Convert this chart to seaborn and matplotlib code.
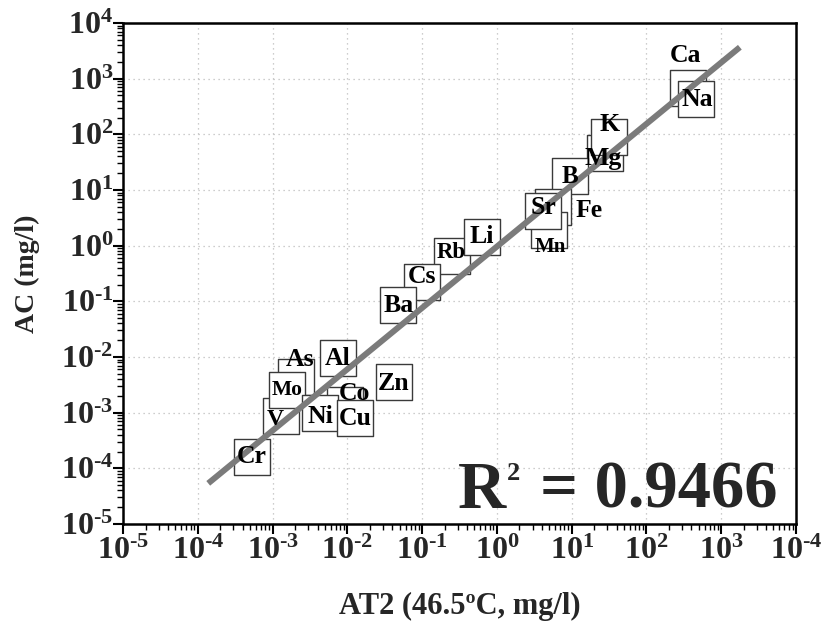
import numpy as np
import pandas as pd
import matplotlib
matplotlib.use("Agg")
import matplotlib.pyplot as plt
import seaborn as sns
from matplotlib.ticker import FixedLocator, LogLocator, NullFormatter, FixedFormatter

# ---------------- data ----------------
elements = ["Ca", "Na", "Mg", "K", "B", "Fe", "Mn", "Sr", "Rb", "Li", "Cs", "Ba",
            "As", "V", "Mo", "Al", "Co", "Ni", "Cu", "Zn", "Cr"]
at2 = [357, 457, 28.2, 31.9, 9.38, 5.69, 4.95, 4.16, 0.248, 0.624, 0.0984, 0.047,
       2.06e-3, 1.28e-3, 1.55e-3, 7.48e-3, 9.29e-3, 4.37e-3, 1.28e-2, 4.20e-2, 5.31e-4]
ac = [671, 437, 46.8, 89.5, 17.9, 4.95, 1.91, 4.2, 0.653, 1.45, 0.223, 0.0859,
      4.43e-3, 8.79e-4, 2.56e-3, 9.59e-3, 1.37e-3, 9.86e-4, 8.04e-4, 3.61e-3, 1.60e-4]

fit_slope = 1.102
fit_intercept = -0.016
fit_x = [1.38e-4, 1775]
r2_value = "0.9466"

decades = [1e-5, 1e-4, 1e-3, 1e-2, 1e-1, 1e0, 1e1, 1e2, 1e3, 1e4]
x_tick_labels = ["-5", "-4", "-3", "-2", "-1", "0", "1", "2", "3", "-4"]
y_tick_labels = ["-5", "-4", "-3", "-2", "-1", "0", "1", "2", "3", "4"]

# label offsets (pixels, dx right, dy down) and sizes
label_off = {"Cr": (0, 0), "V": (-5, 4), "Mo": (0, 0), "As": (4, -17), "Al": (0, 0),
             "Co": (9, -12), "Ni": (0, 3), "Cu": (0, 1), "Zn": (0, 2), "Ba": (1, 0),
             "Cs": (0, -5), "Rb": (0, -3), "Li": (0, 0), "Sr": (0, -3), "Fe": (36, 3),
             "Mn": (1, 17), "B": (0, 1), "Mg": (-2, 6), "K": (0, -13), "Ca": (-2, -33),
             "Na": (2, 1)}
label_size = {"Mn": 15, "Mo": 15.5, "V": 17, "B": 18, "Rb": 16.5}

# ---------------- style ----------------
sns.set_theme(style="white")
plt.rcParams["font.family"] = ["Liberation Serif", "DejaVu Serif"]
plt.rcParams["font.weight"] = "bold"
plt.rcParams["mathtext.fontset"] = "custom"
plt.rcParams["mathtext.rm"] = "Liberation Serif:bold"
plt.rcParams["mathtext.bf"] = "Liberation Serif:bold"
plt.rcParams["mathtext.it"] = "Liberation Serif:bold"
SERIF = ["Liberation Serif", "DejaVu Serif"]

W, H = 826, 625
L, R, T, B = 123, 796, 23, 524
fig = plt.figure(figsize=(W / 100, H / 100), dpi=100)
ax = fig.add_axes([L / W, 1 - B / H, (R - L) / W, (B - T) / H])
ax.set_xscale("log")
ax.set_yscale("log")
ax.set_xlim(1e-5, 1e4)
ax.set_ylim(1e-5, 1e4)

df = pd.DataFrame({"element": elements, "at2": at2, "ac": ac})
sns.scatterplot(data=df, x="at2", y="ac", marker="s", s=700, color="white",
                edgecolor="#3a3a3a", linewidth=1.0, ax=ax, zorder=2, legend=False)

fx = np.array(fit_x)
fy = 10 ** fit_intercept * fx ** fit_slope
sns.lineplot(x=fx, y=fy, color="#7b7b7b", linewidth=4.3, ax=ax, zorder=3,
             solid_capstyle="butt")

for e, x, y in zip(elements, at2, ac):
    dx, dy = label_off.get(e, (0, 0))
    ax.annotate(e, (x, y), xytext=(dx * 0.72, -dy * 0.72), textcoords="offset points",
                ha="center", va="center", fontsize=label_size.get(e, 18.5),
                fontweight="bold", color="black", zorder=4, family=SERIF)

# R^2 annotation (pieces placed in pixel-based axes fractions)
def axfx(px):
    return (px - L) / (R - L)

def axfy(py):
    return (B - py) / (B - T)

ax.text(axfx(458), axfy(508), "R", transform=ax.transAxes, ha="left", va="baseline",
        fontsize=48, fontweight="bold", zorder=5, family=SERIF)
ax.text(axfx(507), axfy(462), "2", transform=ax.transAxes, ha="left", va="top",
        fontsize=19, fontweight="bold", zorder=5, family=SERIF)
ax.text(axfx(777), axfy(508), "= " + r2_value, transform=ax.transAxes, ha="right",
        va="baseline", fontsize=48, fontweight="bold", zorder=5, family=SERIF)

# ticks
for axis, labs in ((ax.xaxis, x_tick_labels), (ax.yaxis, y_tick_labels)):
    axis.set_major_locator(FixedLocator(decades))
    axis.set_major_formatter(FixedFormatter(
        [r"$\mathbf{10^{%s}}$" % l.replace("-", "\u2010") for l in labs]))
    axis.set_minor_locator(LogLocator(base=10, subs=np.arange(2, 10), numticks=30))
    axis.set_minor_formatter(NullFormatter())

ax.tick_params(which="major", direction="out", length=7, width=1.5, color="black",
               labelsize=23, bottom=True, left=True, top=False, right=False)
ax.tick_params(axis="x", which="major", pad=2)
ax.tick_params(axis="y", which="major", pad=0)
ax.tick_params(which="minor", direction="out", length=4, width=1.0, color="black",
               bottom=True, left=True, top=False, right=False)

ax.grid(True, which="major", linestyle=(0, (1, 3)), color="#bdbdbd", linewidth=0.9)
ax.set_axisbelow(True)
for sp in ax.spines.values():
    sp.set_color("black")
    sp.set_linewidth(1.8)

ax.set_xlabel("AT2 (46.5ºC, mg/l)", fontsize=22, fontweight="bold", labelpad=19)
ax.set_ylabel("AC (mg/l)", fontsize=20, fontweight="bold", labelpad=15)

fig.savefig("out.png", dpi=100)
